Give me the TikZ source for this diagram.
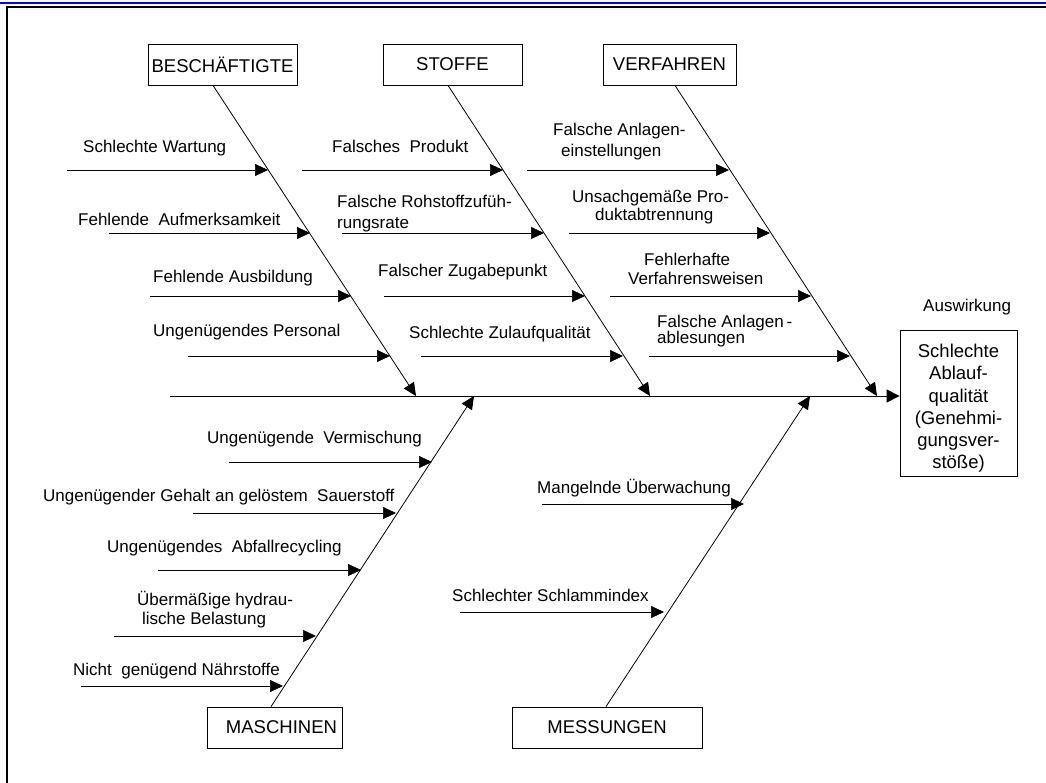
\documentclass[tikz,border=0pt]{standalone}
\usepackage{fontspec}
\setmainfont{Liberation Sans}
\usetikzlibrary{arrows.meta,calc}

\tikzset{
  catbox/.style={draw, line width=0.8pt, inner sep=0pt, minimum height=41pt,
                 font=\fontsize{18.5}{22}\selectfont},
  % multi-line causes are anchored at the baseline of their last line
  cause/.style={anchor=base west, inner sep=0pt, align=left,
                font=\fontsize{17}{#1}\selectfont},
  cause/.default=20,
  bone/.style={line width=0.8pt, -{Triangle[length=13pt,width=12pt]}},
  twig/.style={line width=0.7pt, -{Triangle[length=13pt,width=12pt]}},
}

\begin{document}
\begin{tikzpicture}[x=1pt,y=-1pt]
\useasboundingbox (0,0) rectangle (1046,783);

% page frame
\draw[blue, line width=2.6pt] (0,3) -- (1046,3);
\draw[black, line width=2.8pt] (7,783) -- (7,7) -- (1046,7);

% category boxes
\node[catbox, minimum width=149pt] (besch) at (222.5,64.5) {BESCHÄFTIGTE};
\node[catbox, minimum width=139pt] (stoffe) at (452.5,64.5) {STOFFE};
\node[catbox, minimum width=133pt] (verf) at (669.5,64.5) {VERFAHREN};
\node[catbox, minimum width=135pt, text width=125pt, inner xsep=5pt, align=right] (masch) at (274.5,727.5) {MASCHINEN};
\node[catbox, minimum width=190pt] (mess) at (607,727.5) {MESSUNGEN};

% effect
\node[draw, line width=0.8pt, minimum width=117pt, minimum height=146pt, inner sep=0pt] (effect) at (958.5,403) {};
\node[align=center, inner sep=0pt, font=\fontsize{18.5}{22.2}\selectfont] (effecttext) at (958.5,408.5)
      {Schlechte\\Ablauf-\\qualität\\(Genehmi-\\gungsver-\\stöße)};
\node[anchor=base west, inner sep=0pt, font=\fontsize{17}{20}\selectfont] (auswirkung) at (923,312) {Auswirkung};

% spine
\coordinate (tail) at (170,396);
\draw[line width=1pt, -{Triangle[length=13pt,width=13pt]}] (tail) -- (tail -| effect.west);

% bone ends on the spine
\coordinate (e1) at (416,396);
\coordinate (e2) at (650,396);
\coordinate (e3) at (877,396);
\coordinate (e4) at (474,396);
\coordinate (e5) at (810,396);

\draw[bone] ($(besch.south)+(-9.5,0)$) -- (e1);
\draw[bone] ($(stoffe.south)+(-4.5,0)$) -- (e2);
\draw[bone] ($(verf.south)+(5.5,0)$) -- (e3);
\draw[bone] ($(masch.north)+(-3.5,0)$) -- (e4);
\draw[bone] ($(mess.north)+(-1,0)$) -- (e5);

% BESCHÄFTIGTE causes
\coordinate (a1s) at (67,170);  \coordinate (a1t) at (268,170);
\coordinate (a2s) at (109,233); \coordinate (a2t) at (310,233);
\coordinate (a3s) at (150,296); \coordinate (a3t) at (351,296);
\coordinate (a4s) at (188,356); \coordinate (a4t) at (390,356);
\draw[twig] (a1s) -- (a1t);
\draw[twig] (a2s) -- (a2t);
\draw[twig] (a3s) -- (a3t);
\draw[twig] (a4s) -- (a4t);
\node[cause] (la1) at (83,153) {Schlechte Wartung};
\node[cause] (la2) at (78,226) {Fehlende\ \ Aufmerksamkeit};
\node[cause] (la3) at (153,283) {Fehlende Ausbildung};
\node[cause] (la4) at (153,337) {Ungenügendes Personal};

% STOFFE causes
\coordinate (b1s) at (302,170); \coordinate (b1t) at (503,170);
\coordinate (b2s) at (342,233); \coordinate (b2t) at (544,233);
\coordinate (b3s) at (384,296); \coordinate (b3t) at (585,296);
\coordinate (b4s) at (421,356); \coordinate (b4t) at (623,356);
\draw[twig] (b1s) -- (b1t);
\draw[twig] (b2s) -- (b2t);
\draw[twig] (b3s) -- (b3t);
\draw[twig] (b4s) -- (b4t);
\node[cause] (lb1) at (332,153) {Falsches\ \ Produkt};
\node[cause=21] (lb2) at (337,229) {Falsche Rohstoffzufüh-\\rungsrate};
\node[cause] (lb3) at (378,277) {Falscher Zugabepunkt};
\node[cause] (lb4) at (409,338) {Schlechte Zulaufqualität};

% VERFAHREN causes
\coordinate (c1s) at (527,170); \coordinate (c1t) at (729,170);
\coordinate (c2s) at (569,233); \coordinate (c2t) at (770,233);
\coordinate (c3s) at (610,296); \coordinate (c3t) at (811,296);
\coordinate (c4s) at (649,356); \coordinate (c4t) at (850,356);
\draw[twig] (c1s) -- (c1t);
\draw[twig] (c2s) -- (c2t);
\draw[twig] (c3s) -- (c3t);
\draw[twig] (c4s) -- (c4t);
\node[cause=21] (lc1) at (553,157) {Falsche Anlagen-\\\hspace*{8pt}einstellungen};
\node[cause=18] (lc2) at (572,221) {Unsachgemäße Pro-\\\hspace*{23pt}duktabtrennung};
\node[cause=19] (lc3) at (628,285) {\hspace*{16pt}Fehlerhafte\\Verfahrensweisen};
\node[cause=16] (lc4) at (657,343) {Falsche Anlagen\,-\\ablesungen};

% MASCHINEN causes
\coordinate (d1s) at (229,462); \coordinate (d1t) at (432,462);
\coordinate (d2s) at (193,513); \coordinate (d2t) at (396,513);
\coordinate (d3s) at (158,570); \coordinate (d3t) at (361,570);
\coordinate (d4s) at (114,636); \coordinate (d4t) at (316,636);
\coordinate (d5s) at (81,686);  \coordinate (d5t) at (283,686);
\draw[twig] (d1s) -- (d1t);
\draw[twig] (d2s) -- (d2t);
\draw[twig] (d3s) -- (d3t);
\draw[twig] (d4s) -- (d4t);
\draw[twig] (d5s) -- (d5t);
\node[cause] (ld1) at (207,443) {Ungenügende\ \ Vermischung};
\node[cause] (ld2) at (43,501) {Ungenügender Gehalt an gelöstem\ \ Sauerstoff};
\node[cause] (ld3) at (107,552) {Ungenügendes\ \ Abfallrecycling};
\node[cause=19] (ld4) at (137,624) {Übermäßige hydrau-\\\hspace*{5pt}lische Belastung};
\node[cause] (ld5) at (73,675) {Nicht\ \ genügend Nährstoffe};

% MESSUNGEN causes
\coordinate (m1s) at (542,504); \coordinate (m1t) at (744,504);
\coordinate (m2s) at (460,612); \coordinate (m2t) at (664,612);
\draw[twig] (m1s) -- (m1t);
\draw[twig] (m2s) -- (m2t);
\node[cause] (lm1) at (537,493) {Mangelnde Überwachung};
\node[cause] (lm2) at (452,601) {Schlechter Schlammindex};

\end{tikzpicture}
\end{document}
